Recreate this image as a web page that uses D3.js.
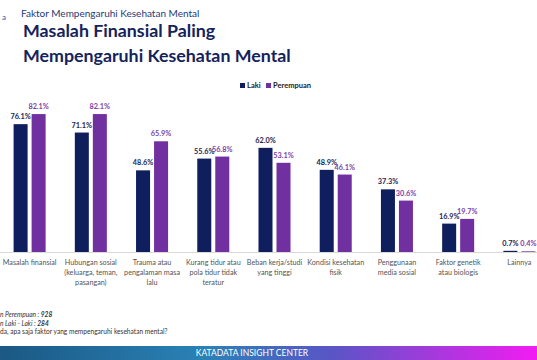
<!DOCTYPE html>
<html>
<head>
<meta charset="utf-8">
<script src="https://cdn.jsdelivr.net/npm/d3@7"></script>
<style>
    body { margin: 0; background: #fff; }
    svg { display: block; font-family: Lato, "Open Sans", sans-serif; }
</style>
</head>
<body>
<div id="chart-area"></div>
<script>

// Data
var categories = [
    ["Masalah finansial"],
    ["Hubungan sosial", "(keluarga, teman,", "pasangan)"],
    ["Trauma atau", "pengalaman masa", "lalu"],
    ["Kurang tidur atau", "pola tidur tidak", "teratur"],
    ["Beban kerja/studi", "yang tinggi"],
    ["Kondisi kesehatan", "fisik"],
    ["Penggunaan", "media sosial"],
    ["Faktor genetik", "atau biologis"],
    ["Lainnya"]
];
var seriesNames = ["Laki", "Perempuan"];
var lakiValues = [76.1, 71.1, 48.6, 55.6, 62.0, 48.9, 37.3, 16.9, 0.7];
var perempuanValues = [82.1, 82.1, 65.9, 56.8, 53.1, 46.1, 30.6, 19.7, 0.4];
var footnotes = [
    ["n Perempuan : ", "928"],
    ["n Laki - Laki : ", "284"],
    ["da, apa saja faktor yang mempengaruhi kesehatan mental?", ""]
];

var BarChart = function(_parentElement){
    var vis = this;
    vis.parentElement = _parentElement;
    vis.initVis();
};

BarChart.prototype.initVis = function(){
    var vis = this;

    vis.width = 537;
    vis.height = 360;

    vis.svg = d3.select("#" + vis.parentElement).append("svg")
        .attr("width", vis.width)
        .attr("height", vis.height);

    vis.color = d3.scaleOrdinal()
        .domain(seriesNames)
        .range(["#0f1f5e", "#7030a0"]);
    vis.labelColor = d3.scaleOrdinal()
        .domain(seriesNames)
        .range(["#1a2457", "#7a3fab"]);

    // groups run a bit past the right edge, like the cropped slide
    vis.x0 = d3.scaleBand()
        .domain(d3.range(categories.length))
        .range([-1, 550])
        .paddingInner(0.477)
        .paddingOuter(0.2385);

    vis.x1 = d3.scaleBand()
        .domain(seriesNames)
        .range([0, vis.x0.bandwidth()])
        .paddingInner(4 / 18);

    vis.y = d3.scaleLinear()
        .domain([0, 100])
        .range([252, 84]);

    vis.displayData = categories.map(function(c, i){
        return { index: i, lines: c, values: [
            { name: "Laki", value: lakiValues[i] },
            { name: "Perempuan", value: perempuanValues[i] }
        ]};
    });

    vis.updateVis();
};

BarChart.prototype.updateVis = function(){
    var vis = this;

    // Header
    vis.svg.append("text")
        .attr("x", 2).attr("y", 20)
        .attr("font-size", 8).attr("fill", "#2a5ca8")
        .text("a");
    vis.svg.append("text")
        .attr("x", 21).attr("y", 17)
        .attr("font-size", 10).attr("fill", "#233a78")
        .text("Faktor Mempengaruhi Kesehatan Mental");
    vis.svg.append("text")
        .attr("x", 23).attr("y", 37)
        .attr("font-size", 17.8).attr("font-weight", 700).attr("fill", "#15235c")
        .text("Masalah Finansial Paling");
    vis.svg.append("text")
        .attr("x", 23).attr("y", 62)
        .attr("font-size", 17.8).attr("font-weight", 700).attr("fill", "#15235c")
        .text("Mempengaruhi Kesehatan Mental");

    // Legend
    var legendX = [240, 266];
    vis.legend = vis.svg.selectAll(".legend")
        .data(seriesNames).enter()
        .append("g")
        .attr("class", "legend")
        .attr("transform", function(d, i){ return "translate(" + legendX[i] + ",83)"; });
    vis.legend.append("rect")
        .attr("width", 5).attr("height", 5)
        .style("fill", function(d){ return vis.color(d); });
    vis.legend.append("text")
        .attr("x", 7).attr("y", 5)
        .attr("font-size", 7.5).attr("font-weight", 700).attr("fill", "#222")
        .text(function(d){ return d; });

    // Baseline
    vis.svg.append("line")
        .attr("x1", 0).attr("x2", vis.width)
        .attr("y1", vis.y(0) + 0.5).attr("y2", vis.y(0) + 0.5)
        .attr("stroke", "#d9d9d9").attr("stroke-width", 1);

    vis.group = vis.svg.selectAll(".group")
        .data(vis.displayData).enter()
        .append("g")
        .attr("class", "group")
        .attr("transform", function(d){ return "translate(" + vis.x0(d.index) + ",0)"; });

    vis.group.selectAll(".bar")
        .data(function(d){ return d.values; }).enter()
        .append("rect")
        .attr("class", "bar")
        .attr("x", function(d){ return vis.x1(d.name); })
        .attr("width", vis.x1.bandwidth())
        .attr("y", function(d){ return vis.y(d.value); })
        .attr("height", function(d){ return vis.y(0) - vis.y(d.value); })
        .style("fill", function(d){ return vis.color(d.name); });

    vis.group.selectAll(".val")
        .data(function(d){ return d.values; }).enter()
        .append("text")
        .attr("class", "val")
        .attr("text-anchor", "middle")
        .attr("x", function(d){ return vis.x1(d.name) + vis.x1.bandwidth() / 2; })
        .attr("y", function(d){ return vis.y(d.value) - 5; })
        .attr("font-size", 7.3).attr("font-weight", 700)
        .attr("fill", function(d){ return vis.labelColor(d.name); })
        .text(function(d){ return d.value.toFixed(1) + "%"; });

    // Category labels
    vis.group.append("text")
        .attr("text-anchor", "middle")
        .attr("font-size", 7.2).attr("fill", "#555")
        .selectAll("tspan")
        .data(function(d){ return d.lines; }).enter()
        .append("tspan")
        .attr("x", vis.x0.bandwidth() / 2)
        .attr("y", function(d, i){ return 265 + i * 10; })
        .text(function(d){ return d; });

    // Footnotes
    var notes = vis.svg.selectAll(".note")
        .data(footnotes).enter()
        .append("text")
        .attr("class", "note")
        .attr("x", 0)
        .attr("y", function(d, i){ return 317 + i * 8.6; })
        .attr("font-size", 6.6).attr("fill", "#333")
        .attr("font-style", function(d, i){ return i < 2 ? "italic" : "normal"; });
    notes.append("tspan").text(function(d){ return d[0]; });
    notes.append("tspan").attr("font-weight", 700).text(function(d){ return d[1]; });

    // Footer band
    var grad = vis.svg.append("defs").append("linearGradient")
        .attr("id", "footer-grad")
        .attr("x1", "0%").attr("x2", "100%");
    grad.append("stop").attr("offset", "0%").attr("stop-color", "#1b5883");
    grad.append("stop").attr("offset", "38%").attr("stop-color", "#2a82b6");
    grad.append("stop").attr("offset", "62%").attr("stop-color", "#5a55c6");
    grad.append("stop").attr("offset", "100%").attr("stop-color", "#f21cf2");
    vis.svg.append("rect")
        .attr("x", 0).attr("y", 346)
        .attr("width", vis.width).attr("height", 14)
        .style("fill", "url(#footer-grad)");
    vis.svg.append("text")
        .attr("x", 252).attr("y", 356)
        .attr("text-anchor", "middle")
        .attr("font-size", 8.5).attr("fill", "#fff")
        .text("KATADATA INSIGHT CENTER");
};

new BarChart("chart-area");

</script>
</body>
</html>
